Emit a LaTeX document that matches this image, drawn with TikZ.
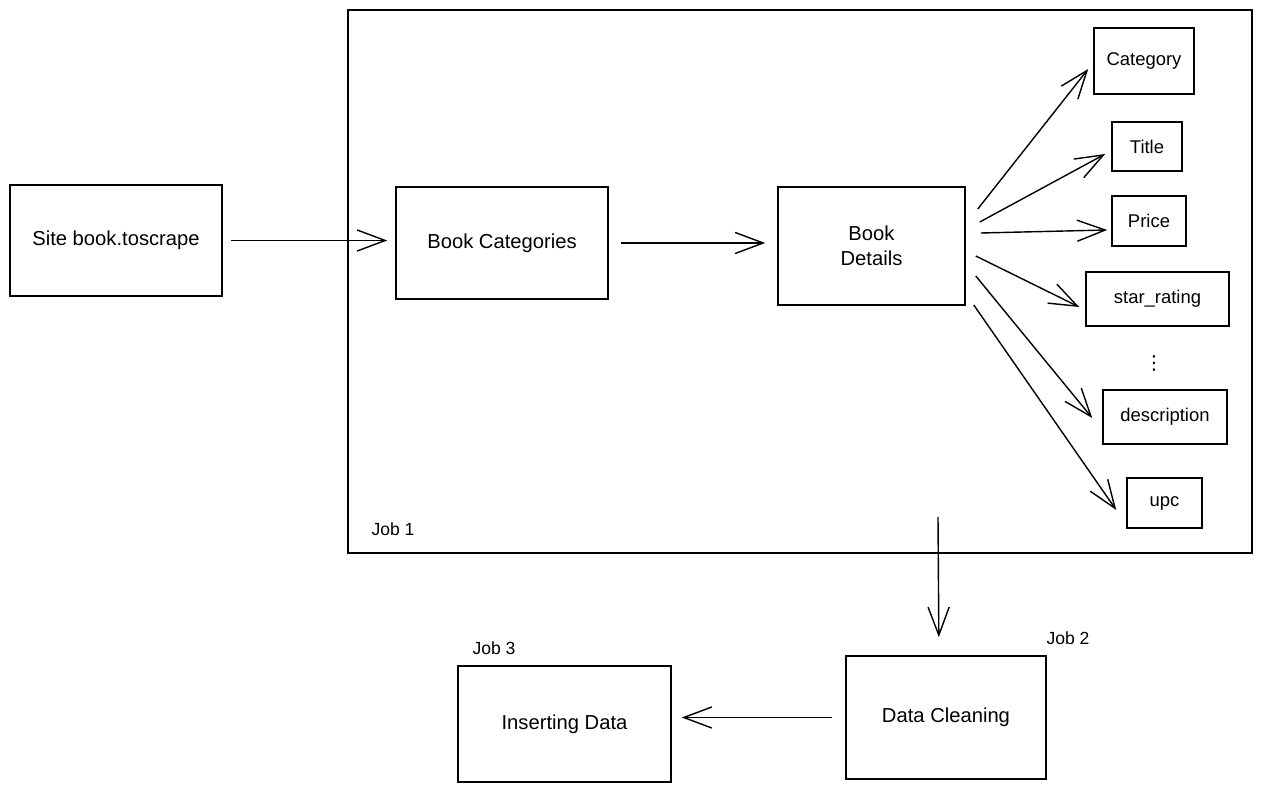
\documentclass[tikz,border=0pt]{standalone}
\usepackage{fontspec}
\setmainfont{Liberation Sans}
\newfontfamily\symfont{DejaVu Sans}
\usetikzlibrary{arrows.meta}
\begin{document}
\begin{tikzpicture}[x=0.02cm,y=-0.02cm,
  box/.style={draw,line width=0.9pt,rectangle,align=center,inner sep=2pt,
    font=\fontsize{11.5}{14}\selectfont},
  field/.style={box,font=\fontsize{10.5}{13}\selectfont},
  joblabel/.style={font=\fontsize{10}{12}\selectfont},
  arr/.style={line width=0.8pt,-{Straight Barb[length=16pt,width=12pt,line width=0.8pt]}}]
\useasboundingbox[fill=white] (0,0) rectangle (1262,793);

% frame of the scraping job
\node[draw,line width=0.9pt,minimum width=18.08cm,minimum height=10.86cm] (job1) at (800,281.5) {};
\node[joblabel] (job1lab) at (393,529) {Job 1};

% main chain
\node[box,minimum width=4.24cm,minimum height=2.22cm] (site) at (116,240.5) {Site book.toscrape};
\node[box,minimum width=4.24cm,minimum height=2.24cm] (cats) at (502,243) {Book Categories};
\node[box,minimum width=3.74cm,minimum height=2.36cm] (details) at (871.5,246) {Book\\Details};

% scraped fields
\node[field,minimum width=2.0cm,minimum height=1.32cm] (category) at (1144,61) {Category};
\node[field,minimum width=1.4cm,minimum height=0.98cm] (title) at (1147,146.5) {Title};
\node[field,minimum width=1.48cm,minimum height=1.0cm] (price) at (1149,221) {Price};
\node[field,minimum width=2.86cm,minimum height=1.08cm] (star) at (1157.5,299) {star\_rating};
\node[font=\symfont\fontsize{11}{13}\selectfont] (dots) at (1154,363) {⋮};
\node[field,minimum width=2.48cm,minimum height=1.08cm] (desc) at (1165,417) {description};
\node[field,minimum width=1.5cm,minimum height=1.0cm] (upc) at (1164.5,503) {upc};

% later jobs
\node[box,minimum width=4.0cm,minimum height=2.46cm] (clean) at (946,717.5) {Data Cleaning};
\node[joblabel] (job2lab) at (1068,638) {Job 2};
\node[box,minimum width=4.26cm,minimum height=2.32cm] (insert) at (564.5,724) {Inserting Data};
\node[joblabel] (job3lab) at (494,648) {Job 3};

% connectors
\draw[arr,shorten <=0.16cm,shorten >=0.16cm] (site.east) -- (site.east -| cats.west);
\draw[arr,shorten <=0.24cm,shorten >=0.24cm] (cats.east) -- (cats.east -| details.west);

\draw[arr] ([shift={(12,-37)}]details.east) -- ([shift={(-5,8)}]category.west);
\draw[arr] ([shift={(14,-24)}]details.east) -- ([shift={(-6,7.5)}]title.west);
\draw[arr] ([shift={(15,-13)}]details.east) -- ([shift={(-4,9)}]price.west);
\draw[arr] ([shift={(10,10)}]details.east) -- ([shift={(-6,8)}]star.west);
\draw[arr] ([shift={(10,30)}]details.east) -- ([shift={(-10,1)}]desc.west);
\draw[arr] ([shift={(8,59)}]details.east) -- ([shift={(-10,7)}]upc.west);

\coordinate (j1out) at (938,517);
\draw[arr,shorten >=0.36cm] (j1out) -- ([xshift=-4]clean.north);
\draw[arr,shorten <=0.26cm,shorten >=0.2cm] (clean.west) -- (clean.west -| insert.east);
\end{tikzpicture}
\end{document}
